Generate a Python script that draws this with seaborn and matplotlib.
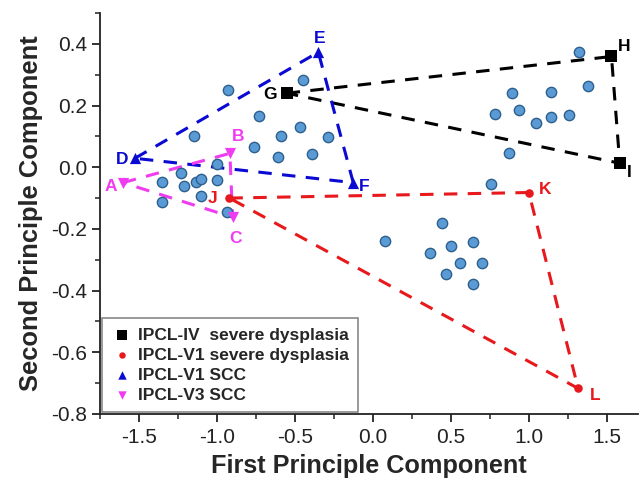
import numpy as np
import pandas as pd
import matplotlib
matplotlib.use("Agg")
import matplotlib.pyplot as plt
import seaborn as sns

# ---- data ----
blue_x = [-0.93, -1.15, -0.73, -0.59, -0.47, -0.45, -0.76, -0.61, -0.39, -0.29,
          -1.00, -1.00, -1.23, -1.35, -1.21, -1.135, -1.10, -1.10, -1.35, -0.935,
          1.32, 1.38, 0.89, 1.14, 0.78, 0.94, 1.045, 1.14, 1.26, 0.87, 0.76,
          0.08, 0.44, 0.365, 0.50, 0.64, 0.56, 0.70, 0.47, 0.64]
blue_y = [0.25, 0.10, 0.165, 0.10, 0.13, 0.283, 0.066, 0.034, 0.043, 0.097,
          0.01, -0.04, -0.02, -0.048, -0.06, -0.049, -0.039, -0.094, -0.114, -0.146,
          0.375, 0.264, 0.24, 0.243, 0.173, 0.186, 0.145, 0.162, 0.17, 0.047, -0.054,
          -0.24, -0.18, -0.277, -0.255, -0.241, -0.311, -0.311, -0.346, -0.38]

groups = ["IPCL-IV  severe dysplasia", "IPCL-V1 severe dysplasia",
          "IPCL-V1 SCC", "IPCL-V3 SCC"]
vert_labels = [["G", "H", "I"], ["J", "K", "L"], ["D", "E", "F"], ["A", "B", "C"]]
vert_x = [[-0.553, 1.53, 1.583], [-0.92, 1.00, 1.316],
          [-1.526, -0.35, -0.126], [-1.603, -0.917, -0.90]]
vert_y = [[0.24, 0.359, 0.013], [-0.10, -0.082, -0.717],
          [0.029, 0.373, -0.05], [-0.05, 0.045, -0.162]]

# ---- style ----
sns.set_theme(style="ticks")
plt.rcParams["font.family"] = ["Liberation Sans", "DejaVu Sans"]
plt.rcParams["axes.unicode_minus"] = False

colors = ["#000000", "#e8191c", "#0a0ad2", "#f03cf0"]
markers = ["s", "o", "^", "v"]
label_offsets = {  # offset points for vertex letters
    "G": (-12, -1), "H": (9, 7), "I": (7, -7),
    "J": (-12, 0), "K": (12, 2), "L": (12, -5),
    "D": (-9, -1), "E": (1, 10), "F": (8, -3),
    "A": (-9, -3), "B": (6, 12), "C": (2, -15),
}

fig = plt.figure(figsize=(6.41, 4.83), dpi=100)
ax = fig.add_axes([100 / 641, 1 - 414 / 483, 538 / 641, (414 - 13) / 483])

# dashed triangles
for gx, gy, c in zip(vert_x, vert_y, colors):
    ax.plot(gx + [gx[0]], gy + [gy[0]], color=c, lw=2.2,
            dashes=(4.4, 3.4), zorder=2)

# blue sample points
blue_df = pd.DataFrame({"x": blue_x, "y": blue_y})
sns.scatterplot(data=blue_df, x="x", y="y", ax=ax, color="#5b9bd5",
                edgecolor="#2d5f8e", linewidth=1.0, s=55, zorder=3, legend=False)

# vertex points
rows = []
for g, labs, gx, gy in zip(groups, vert_labels, vert_x, vert_y):
    for l, xx, yy in zip(labs, gx, gy):
        rows.append({"group": g, "lab": l, "x": xx, "y": yy})
vdf = pd.DataFrame(rows)
sizes_map = {groups[0]: 75, groups[1]: 38, groups[2]: 65, groups[3]: 65}
for g, c, m in zip(groups, colors, markers):
    sub = vdf[vdf["group"] == g]
    sns.scatterplot(data=sub, x="x", y="y", ax=ax, color=c, marker=m,
                    s=sizes_map[g], linewidth=0, zorder=4, label=g)

for _, r in vdf.iterrows():
    c = colors[groups.index(r["group"])]
    ax.annotate(r["lab"], (r["x"], r["y"]), xytext=label_offsets[r["lab"]],
                textcoords="offset points", ha="center", va="center",
                color=c, fontsize=12.5, fontweight="bold", zorder=5)

ax.set_xlim(-1.75, 1.7)
ax.set_ylim(-0.8, 0.5)
ax.set_xticks([-1.5, -1.0, -0.5, 0.0, 0.5, 1.0, 1.5])
ax.set_yticks([-0.8, -0.6, -0.4, -0.2, 0.0, 0.2, 0.4])
ax.set_xticks(np.arange(-1.75, 1.71, 0.25), minor=True)
ax.set_yticks(np.arange(-0.7, 0.51, 0.2), minor=True)
ax.tick_params(axis="both", which="major", direction="out", length=6, width=1.3,
               labelsize=15, colors="#222222", labelcolor="#222222")
ax.tick_params(axis="x", which="major", pad=4)
ax.tick_params(axis="y", which="major", pad=3)
ax.tick_params(axis="both", which="minor", direction="out", length=3.5, width=1.1,
               colors="#222222")
for s in ["top", "right"]:
    ax.spines[s].set_visible(False)
for s in ["left", "bottom"]:
    ax.spines[s].set_linewidth(1.3)
    ax.spines[s].set_color("#222222")

ax.set_xlabel("First Principle Component", fontsize=18.2, fontweight="bold",
              labelpad=5)
ax.set_ylabel("Second Principle Component", fontsize=18.4, fontweight="bold",
              labelpad=6)

leg = ax.legend(loc="lower left", bbox_to_anchor=(0.004, 0.004), frameon=True,
                fancybox=False, edgecolor="#888888", framealpha=1,
                prop={"weight": "bold", "size": 12.5}, handletextpad=0.3,
                borderpad=0.55, labelspacing=0.28, markerscale=0.75,
                handlelength=1.2, borderaxespad=0)
leg.get_frame().set_linewidth(1.2)

fig.savefig("out.png", dpi=100)
